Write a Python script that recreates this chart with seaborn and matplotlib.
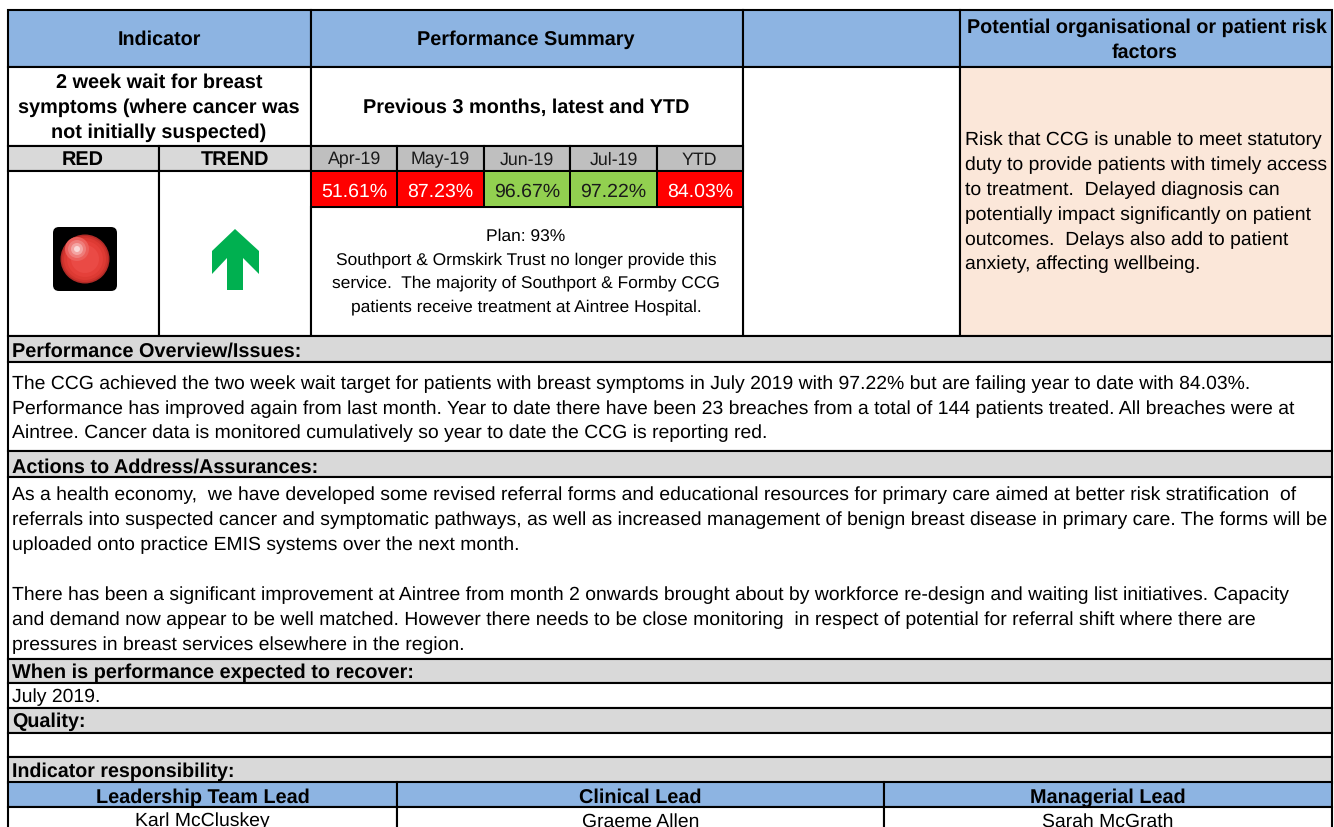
import matplotlib.pyplot as plt
import numpy as np
import pandas as pd
import seaborn as sns
from matplotlib.colors import BoundaryNorm, ListedColormap
from matplotlib.patches import Circle, FancyBboxPatch, Polygon, Rectangle

## data
months = ['Apr-19', 'May-19', 'Jun-19', 'Jul-19', 'YTD']
values = [51.61, 87.23, 96.67, 97.22, 84.03]
plan = 93

indicator_lines = ['2 week wait for breast', 'symptoms (where cancer was', 'not initially suspected)']
plan_lines = ['Plan: 93%', 'Southport & Ormskirk Trust no longer provide this',
              'service.  The majority of Southport & Formby CCG',
              'patients receive treatment at Aintree Hospital.']
risk_lines = ['Risk that CCG is unable to meet statutory', 'duty to provide patients with timely access',
              'to treatment.  Delayed diagnosis can', 'potentially impact significantly on patient',
              'outcomes.  Delays also add to patient', 'anxiety, affecting wellbeing.']
overview_lines = ['The CCG achieved the two week wait target for patients with breast symptoms in July 2019 with 97.22% but are failing year to date with 84.03%.',
                  'Performance has improved again from last month. Year to date there have been 23 breaches from a total of 144 patients treated. All breaches were at',
                  'Aintree. Cancer data is monitored cumulatively so year to date the CCG is reporting red.']
actions_lines = ['As a health economy,  we have developed some revised referral forms and educational resources for primary care aimed at better risk stratification  of',
                 'referrals into suspected cancer and symptomatic pathways, as well as increased management of benign breast disease in primary care. The forms will be',
                 'uploaded onto practice EMIS systems over the next month.',
                 '',
                 'There has been a significant improvement at Aintree from month 2 onwards brought about by workforce re-design and waiting list initiatives. Capacity',
                 'and demand now appear to be well matched. However there needs to be close monitoring  in respect of potential for referral shift where there are',
                 'pressures in breast services elsewhere in the region.']
leads = ['Leadership Team Lead', 'Clinical Lead', 'Managerial Lead']
lead_names = ['Karl McCluskey', 'Graeme Allen', 'Sarah McGrath']

BLUE = '#8DB4E2'
GREY = '#D9D9D9'
MID = '#BFBFBF'
PEACH = '#FBE7D9'
LW = 1.5
W, H = 1334, 828
BODY = 13.92
HEAD = 14.35
SMALL = 12.8
PLAN = 12.5

sns.set_theme(style='white')
plt.rcParams['font.family'] = ['Liberation Sans', 'DejaVu Sans']
plt.rcParams['text.hinting'] = 'no_hinting'

fig = plt.figure(figsize=(W / 100, H / 100), dpi=100)
ax = fig.add_axes([0, 0, 1, 1])
ax.set_xlim(0, W)
ax.set_ylim(H, 0)
ax.axis('off')


def cell(x0, y0, x1, y1, color='white'):
    ax.add_patch(Rectangle((x0, y0 + 0.5), x1 - x0, y1 - y0, fc=color, ec='black', lw=LW))


def txt(x, y, s, bold=False, ha='center', size=BODY, color='black'):
    ax.text(x, y + 1.5, s, ha=ha, va='center', fontsize=size, color=color,
            fontweight='bold' if bold else 'normal')


L, R = 8, 1331.5
## top header
cell(L, 10, 311, 67, BLUE)
cell(311, 10, 743, 67, BLUE)
cell(743, 10, 960, 67, BLUE)
cell(960, 10, R, 67, BLUE)
txt(159, 38, 'Indicator', True, size=14.2)
txt(526, 38, 'Performance Summary', True, size=HEAD)
txt(1146.5, 26, 'Potential organisational or patient risk', True, size=14.2)
txt(1145, 51, 'factors', True, size=14.2)

## indicator block
cell(L, 67, 311, 146)
for i, s in enumerate(indicator_lines):
    txt(159, 81 + i * 25, s, True, size=HEAD)
cell(311, 67, 743, 146)
txt(526, 106, 'Previous 3 months, latest and YTD', True, size=HEAD)
cell(743, 67, 960, 336)
cell(960, 67, R, 336, PEACH)
for i, s in enumerate(risk_lines):
    txt(965, 139 + i * 24.8, s, ha='left')

cell(L, 146, 159, 171, GREY)
cell(159, 146, 311, 171, GREY)
txt(83, 158.5, 'RED', True, size=HEAD)
txt(235, 158.5, 'TREND', True, size=HEAD)
cell(L, 171, 159, 336)
cell(159, 171, 311, 336)

## months and values
edges = np.linspace(311, 743, len(months) + 1)
for i, m in enumerate(months):
    cell(edges[i], 146, edges[i + 1], 171, MID)
    txt((edges[i] + edges[i + 1]) / 2, 158.5, m, size=SMALL, color='#1a1a1a')

cell(311, 207, 743, 336)
for i, s in enumerate(plan_lines):
    txt(526, 235 + i * 23.5, s, size=PLAN)

## red light
ax.add_patch(FancyBboxPatch((53, 228), 64, 64, boxstyle='round,pad=0,rounding_size=6', fc='black', ec='none'))
for r, c in [(24.5, '#b02a26'), (23, '#cf332d'), (21, '#dd3a33'), (18, '#e5403a'), (14, '#ea4a45')]:
    ax.add_patch(Circle((85, 260), r, fc=c, ec='none'))
for r, c in [(12, '#ec5f5b'), (9, '#ef7d7a'), (6, '#f4a5a3'), (3, '#fbd9d8')]:
    ax.add_patch(Circle((77, 250), r, fc=c, ec='none'))

## trend arrow
ax.add_patch(Polygon([(235, 230), (259, 252), (259, 275), (243, 259), (243, 291),
                      (227, 291), (227, 259), (212, 275), (212, 252)], fc='#00B050', ec='none'))

## text sections
cell(L, 336, R, 362.5, GREY)
txt(12, 350, 'Performance Overview/Issues:', True, ha='left', size=HEAD)
cell(L, 362.5, R, 451)
for i, s in enumerate(overview_lines):
    txt(12, 383 + i * 24.4, s, ha='left')
cell(L, 451, R, 477.5, GREY)
txt(12, 465.5, 'Actions to Address/Assurances:', True, ha='left', size=HEAD)
cell(L, 477.5, R, 659)
for i, s in enumerate(actions_lines):
    if s:
        txt(12, 493.5 + i * 25, s, ha='left')
cell(L, 659, R, 683, GREY)
txt(12, 671, 'When is performance expected to recover:', True, ha='left', size=HEAD)
cell(L, 683, R, 708)
txt(12, 696, 'July 2019.', ha='left')
cell(L, 708, R, 733, GREY)
txt(12, 720, 'Quality:', True, ha='left', size=14.2)
cell(L, 733, R, 757)
cell(L, 757, R, 783, GREY)
txt(12, 770, 'Indicator responsibility:', True, ha='left', size=14.1)

## leads
lead_edges = [L, 397, 884, R]
for i in range(3):
    cell(lead_edges[i], 783, lead_edges[i + 1], 808, BLUE)
    cell(lead_edges[i], 808, lead_edges[i + 1], 850)
    c = (lead_edges[i] + lead_edges[i + 1]) / 2
    txt(c, 796, leads[i], True, size=HEAD)
    txt(c, 820, lead_names[i])

## performance row, coloured against the plan
hax = fig.add_axes([311 / W, 1 - 207.5 / H, 432 / W, 36 / H])
df = pd.DataFrame([values], columns=months)
cmap = ListedColormap(['#FF0000', '#92D050'])
norm = BoundaryNorm([0, plan, 100], 2)
annot = np.array([[f'{v:.2f}%' for v in values]])
sns.heatmap(df, ax=hax, cmap=cmap, norm=norm, cbar=False, annot=annot, fmt='',
            linewidths=1.2, linecolor='black', xticklabels=False, yticklabels=False,
            annot_kws={'fontsize': 14})
for t, v in zip(hax.texts, values):
    t.set_color('white' if v < plan else '#1a1a1a')
    t.set_y(t.get_position()[1] + 0.08)

plt.savefig('out.png', dpi=100)
